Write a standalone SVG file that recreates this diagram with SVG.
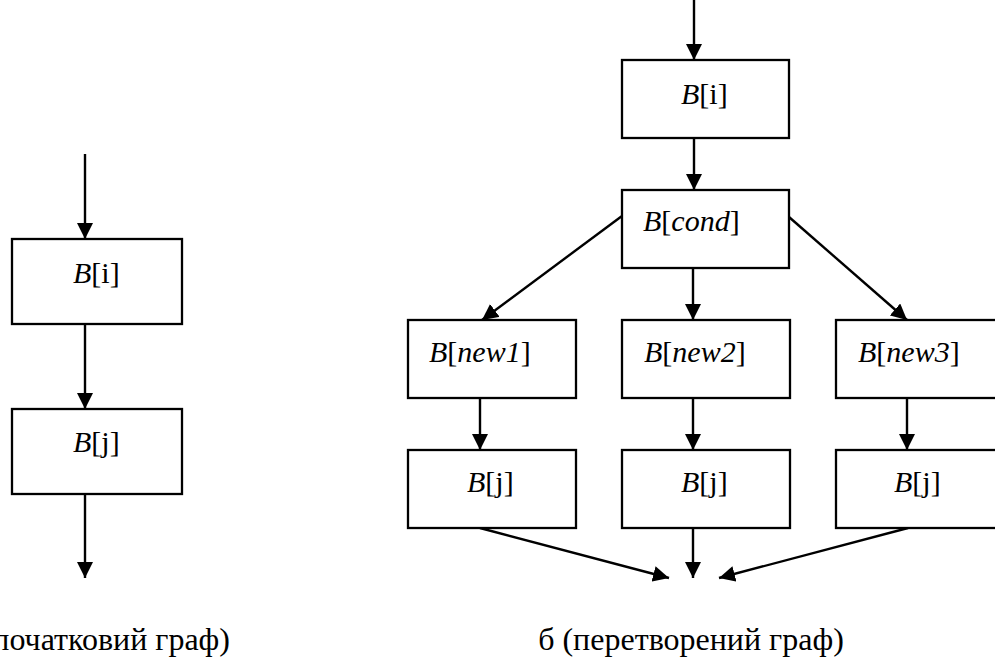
<svg xmlns="http://www.w3.org/2000/svg" width="995" height="658" viewBox="0 0 995 658">
<defs>
<marker id="ah" markerUnits="userSpaceOnUse" markerWidth="16" markerHeight="16" refX="16" refY="8" orient="auto">
<path d="M0,0 L16,8 L0,16 z" fill="#000"/>
</marker>
<style>
.box{fill:#fff;stroke:#000;stroke-width:2.3}
.t{font-size:30px;fill:#000}
.cap{font-size:32px;fill:#000}
.it{font-style:italic}
.e{stroke:#000;stroke-width:2.4;fill:none;marker-end:url(#ah)}
</style>
</defs>
<rect width="995" height="658" fill="#fff"/>
<g id="connectors">
<line class="e" x1="85" y1="154" x2="85" y2="239"/>
<line class="e" x1="85" y1="324" x2="85" y2="409"/>
<line class="e" x1="85" y1="494" x2="85" y2="578"/>
<line class="e" x1="694" y1="0" x2="694" y2="60"/>
<line class="e" x1="694" y1="138" x2="694" y2="190"/>
<line class="e" x1="693" y1="268" x2="693" y2="320"/>
<line class="e" x1="622" y1="216" x2="482" y2="320"/>
<line class="e" x1="789" y1="217" x2="907" y2="320"/>
<line class="e" x1="480" y1="398" x2="480" y2="450"/>
<line class="e" x1="693" y1="398" x2="693" y2="450"/>
<line class="e" x1="907" y1="398" x2="907" y2="450"/>
<line class="e" x1="480" y1="528" x2="669" y2="578"/>
<line class="e" x1="693" y1="528" x2="693" y2="578"/>
<line class="e" x1="908" y1="528" x2="719" y2="578"/>
</g>
<g font-family="'Liberation Serif', 'Times New Roman', 'DejaVu Serif', serif">
<g id="a_Bi"><rect class="box" x="12" y="239" width="170" height="85"/><text class="t" x="73" y="283"><tspan class="it">B</tspan>[i]</text></g>
<g id="a_Bj"><rect class="box" x="12" y="409" width="170" height="85"/><text class="t" x="73" y="452"><tspan class="it">B</tspan>[j]</text></g>
<g id="b_Bi"><rect class="box" x="622" y="60" width="167" height="78"/><text class="t" x="681" y="104"><tspan class="it">B</tspan>[i]</text></g>
<g id="b_Bcond"><rect class="box" x="622" y="190" width="167" height="78"/><text class="t" x="643" y="231"><tspan class="it">B</tspan>[<tspan class="it">cond</tspan>]</text></g>
<g id="b_new1"><rect class="box" x="408" y="320" width="168" height="78"/><text class="t" x="429" y="362"><tspan class="it">B</tspan>[<tspan class="it">new1</tspan>]</text></g>
<g id="b_new2"><rect class="box" x="622" y="320" width="168" height="78"/><text class="t" x="644" y="362"><tspan class="it">B</tspan>[<tspan class="it">new2</tspan>]</text></g>
<g id="b_new3"><rect class="box" x="836" y="320" width="168" height="78"/><text class="t" x="858" y="362"><tspan class="it">B</tspan>[<tspan class="it">new3</tspan>]</text></g>
<g id="b_j1"><rect class="box" x="408" y="450" width="168" height="78"/><text class="t" x="467" y="492"><tspan class="it">B</tspan>[j]</text></g>
<g id="b_j2"><rect class="box" x="622" y="450" width="168" height="78"/><text class="t" x="681" y="492"><tspan class="it">B</tspan>[j]</text></g>
<g id="b_j3"><rect class="box" x="836" y="450" width="168" height="78"/><text class="t" x="894" y="492"><tspan class="it">B</tspan>[j]</text></g>
<g id="captions">
<text class="cap" x="230" y="650" text-anchor="end">а (початковий граф)</text>
<text class="cap" x="691" y="650" text-anchor="middle">б (перетворений граф)</text>
</g>
</g>
</svg>
